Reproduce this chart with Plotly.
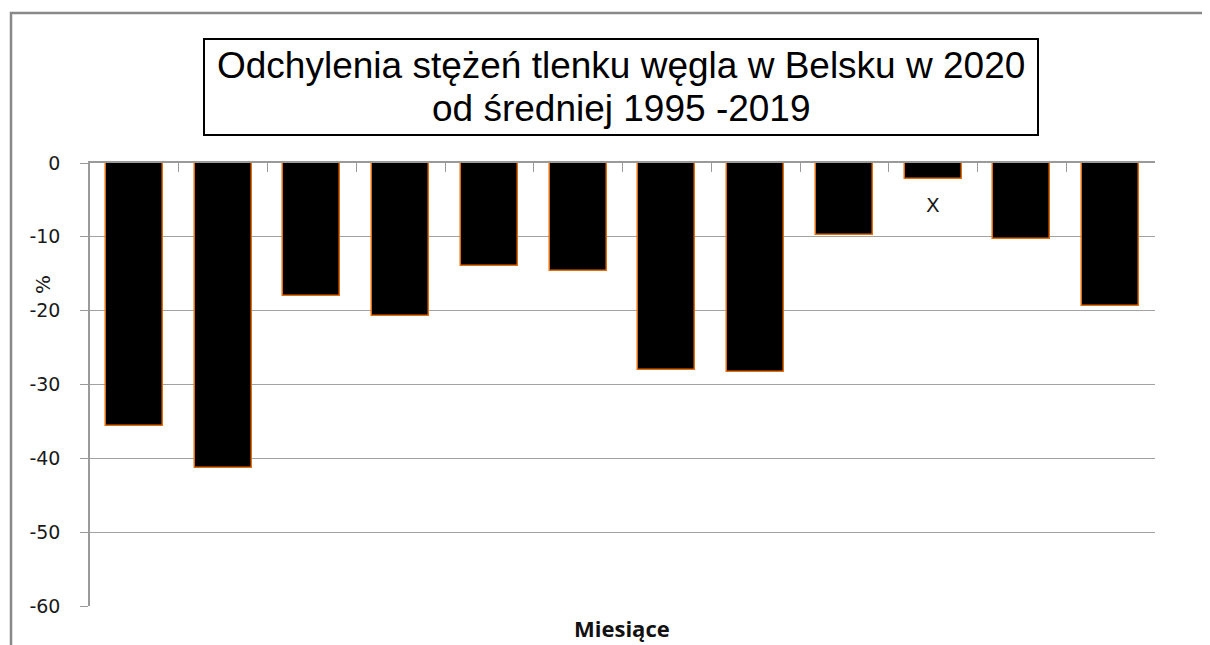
import plotly.graph_objects as go

# miesiące 1..12 (bez podpisów na osi)
months = list(range(1, 13))
deviation = [-35.6, -41.3, -18.0, -20.7, -14.0, -14.6, -28.0, -28.3, -9.7, -2.2, -10.3, -19.4]
y_ticks = [0, -10, -20, -30, -40, -50, -60]
y_tick_text = ["0", "-10", "-20", "-30", "-40", "-50", "-60"]
title_lines = ["Odchylenia stężeń tlenku węgla w Belsku w 2020", "od średniej 1995 -2019"]
missing_month = 10

# strona ma 8px marginesu body, więc współrzędne figury = ekran - 8
W, H = 1210, 645
L, R, T, B = 82, 63, 155, 47
pw, ph = W - L - R, H - T - B


def px_x(x):
    return (x - L) / pw


def px_y(y):
    return 1 - (y - T) / ph


fig = go.Figure()
fig.add_trace(
    go.Bar(
        x=months,
        y=deviation,
        width=0.64,
        marker=dict(color="#000000", line=dict(color="#e46c0a", width=1.5)),
        showlegend=False,
        hoverinfo="y",
    )
)

fig.update_layout(
    width=W,
    height=H,
    margin=dict(l=L, r=R, t=T, b=B, autoexpand=False),
    paper_bgcolor="white",
    plot_bgcolor="white",
    font=dict(family="DejaVu Sans", color="#1a1a1a"),
    bargap=0,
)

fig.update_xaxes(
    range=[0.5, 12.5],
    side="top",
    showline=True,
    linecolor="#9a9a9a",
    linewidth=1.5,
    tickmode="array",
    tickvals=[m + 0.5 for m in [0] + months],
    ticktext=[""] * 13,
    ticks="inside",
    ticklen=9,
    tickcolor="#9a9a9a",
    showgrid=False,
    zeroline=False,
    title=None,
)
fig.update_yaxes(
    range=[-60, 0],
    tickmode="array",
    tickvals=y_ticks,
    ticktext=y_tick_text,
    showline=True,
    linecolor="#9a9a9a",
    linewidth=1.5,
    ticks="outside",
    ticklen=8,
    tickcolor="#9a9a9a",
    ticklabelstandoff=16,
    tickfont=dict(size=19, color="#1a1a1a"),
    showgrid=True,
    gridcolor="#a2a2a2",
    gridwidth=1,
    zeroline=False,
    title=None,
)

# ramka wykresu (ucięta z prawej i u dołu)
fig.add_shape(
    type="rect",
    xref="paper", yref="paper",
    x0=px_x(3), x1=px_x(W + 20),
    y0=px_y(H + 20), y1=px_y(5),
    line=dict(color="#888888", width=2.5),
    fillcolor="rgba(0,0,0,0)",
    layer="below",
)

# tytuł w ramce
fig.add_shape(
    type="rect",
    xref="paper", yref="paper",
    x0=px_x(196), x1=px_x(1030),
    y0=px_y(127), y1=px_y(31),
    line=dict(color="#000000", width=2),
    fillcolor="white",
)
for line, yc in zip(title_lines, [58, 100.5]):
    fig.add_annotation(
        xref="paper", yref="paper",
        x=px_x(613), y=px_y(yc),
        text=line,
        showarrow=False,
        font=dict(family="Liberation Sans", size=37, color="#000000"),
        xanchor="center", yanchor="middle",
    )

# oś Y - opis
fig.add_annotation(
    xref="paper", yref="paper",
    x=px_x(35), y=px_y(277),
    text="%",
    textangle=-90,
    showarrow=False,
    font=dict(size=20, color="#1a1a1a"),
    xanchor="center", yanchor="middle",
)

# brak danych
fig.add_annotation(
    x=missing_month, y=-5.7,
    text="X",
    showarrow=False,
    font=dict(size=20, color="#1a1a1a"),
)

# podpis osi X
fig.add_annotation(
    xref="paper", yref="paper",
    x=px_x(614), y=px_y(620),
    text="<b>Miesiące</b>",
    showarrow=False,
    font=dict(family="Open Sans", size=22, color="#111111"),
    xanchor="center", yanchor="middle",
)

fig.write_html("out.html")
